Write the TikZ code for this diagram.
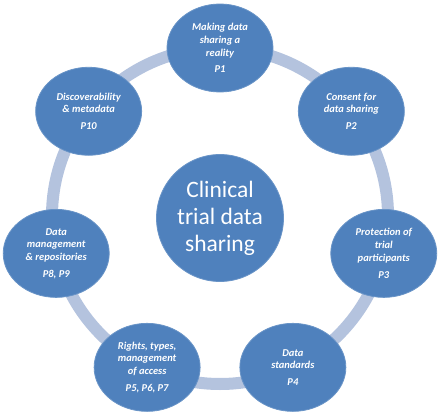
\documentclass[tikz,border=0pt]{standalone}
\usepackage{fontspec}
\setmainfont{Carlito}
\usepackage{tikz}
\usetikzlibrary{positioning,shapes.geometric}

\definecolor{topicblue}{HTML}{4F81BD}
\definecolor{ringblue}{HTML}{B4C3DE}

\begin{document}
\begin{tikzpicture}[x=1pt, y=1pt,
    topic/.style={draw=topicblue!85!white, line width=0.8pt, fill=topicblue, ellipse, minimum width=106pt, minimum height=88pt, inner sep=0pt, align=center, text=white, font=\fontsize{10.5}{12.7}\selectfont\bfseries\itshape},
    hub/.style={draw=topicblue!85!white, line width=0.8pt, fill=topicblue, circle, minimum size=127pt, inner sep=0pt, align=center, text=white, font=\fontsize{23.5}{27}\selectfont}]

    \useasboundingbox (-220,-200) rectangle (220,216);

    % ring behind the topics
    \coordinate (ctr) at (0,0);
    \draw[ringblue, line width=12pt] (ctr) circle (168);

    % centre
    \node[hub] (hub) at (0,-2) {Clinical\\trial data\\sharing};

    % topics around the ring
    \node[topic] (p1) at (90:168) {Making data\\sharing a\\reality\\[4pt]P1};
    \node[topic] (p2) at (38.57:168) {Consent for\\data sharing\\[4pt]P2};
    \node[topic] (p3) at (-12.86:168) {Protection of\\trial\\participants\\[4pt]P3};
    \node[topic] (p4) at (-64.29:168) {Data\\standards\\[4pt]P4};
    \node[topic] (p5) at (-115.71:168) {Rights, types,\\management\\of access\\[4pt]P5, P6, P7};
    \node[topic] (p8) at (-167.14:168) {Data\\management\\\& repositories\\[4pt]P8, P9};
    \node[topic] (p10) at (141.43:168) {Discoverability\\\& metadata\\[4pt]P10};

\end{tikzpicture}
\end{document}
